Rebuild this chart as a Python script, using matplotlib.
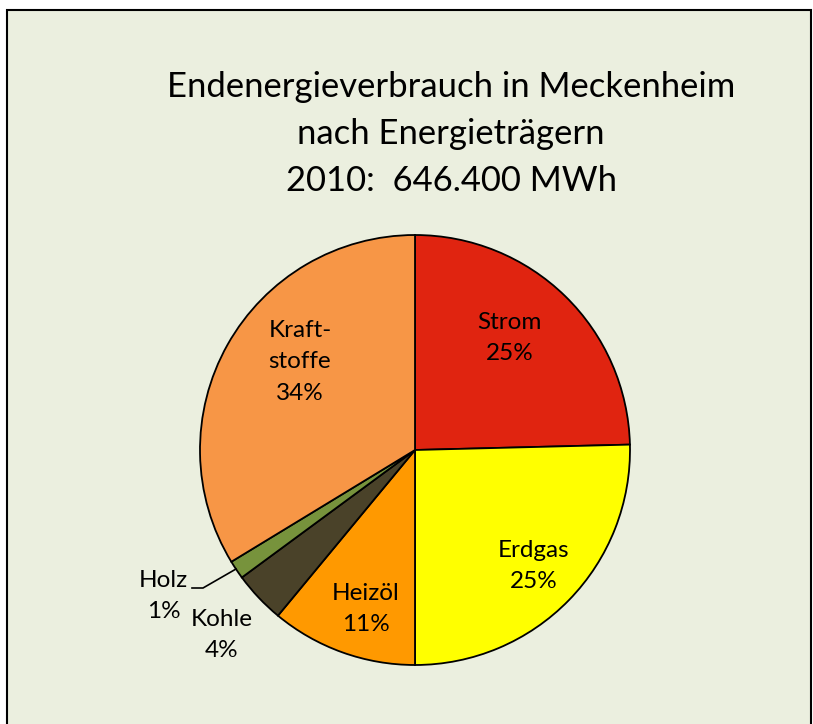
import matplotlib
matplotlib.use("Agg")
import matplotlib.pyplot as plt
from matplotlib.patches import Rectangle

categories = ["Strom", "Erdgas", "Heizöl", "Kohle", "Holz", "Kraftstoffe"]
label_names = ["Strom", "Erdgas", "Heizöl", "Kohle", "Holz", "Kraft-\nstoffe"]
values = [24.6, 25.4, 11.0, 3.9, 1.4, 33.7]
colors = ["#E02410", "#FFFF00", "#FF9900", "#4A4229", "#77933C", "#F79646"]
title = "Endenergieverbrauch in Meckenheim\nnach Energieträgern\n2010:  646.400 MWh"

# label positions (pie-radius units) -- layout
label_pos = [(0.44, 0.52), (0.55, -0.54), (-0.23, -0.74), (-0.90, -0.86), (-1.17, -0.68), (-0.535, 0.41)]

plt.rcParams['font.family'] = ['Lato', 'DejaVu Sans']

W, H = 813, 724
fig = plt.figure(figsize=(W / 100, H / 100), dpi=100, facecolor="white")
bg = Rectangle((7 / W, -0.01), (811 - 7) / W, (H - 10) / H + 0.01, transform=fig.transFigure,
               facecolor="#EBEFDF", edgecolor="black", linewidth=1.5, zorder=-10)
fig.patches.append(bg)

cx, cy, R = 415, 450, 215
ax = fig.add_axes([0, 0, 1, 1])
ax.axis("off")
ax.patch.set_alpha(0)

ax.pie(values, colors=colors, startangle=90, counterclock=False, radius=1.0,
       wedgeprops=dict(edgecolor="black", linewidth=1.3))
ax.set_xlim(-cx / R, (W - cx) / R)
ax.set_ylim(-(H - cy) / R, cy / R)
ax.set_aspect("auto")

for name, v, (x, y) in zip(label_names, values, label_pos):
    ax.text(x, y, f"{name}\n{v:.0f}%", ha="center", va="center", fontsize=17.5,
            linespacing=1.6, color="black")

# leader line for Holz
ax.plot([(192 - cx) / R, (203 - cx) / R, (236 - cx) / R],
        [-(588 - cy) / R, -(588 - cy) / R, -(569 - cy) / R], color="black", lw=1.2)

fig.text(0.555, 1 - 134 / H, title, ha="center", va="center", fontsize=24.9, linespacing=1.56)

fig.savefig("out.png", dpi=100, facecolor="white")
